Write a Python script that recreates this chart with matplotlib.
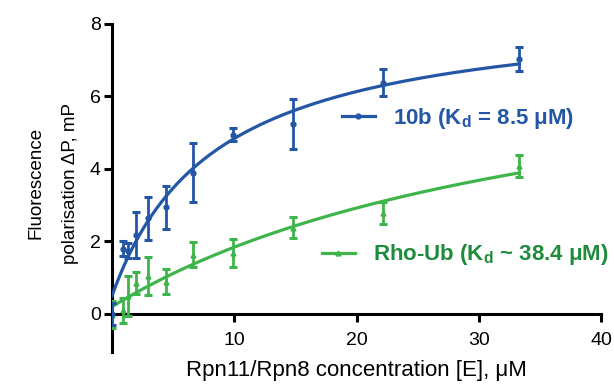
import numpy as np
import matplotlib
matplotlib.use("Agg")
import matplotlib.pyplot as plt
from matplotlib.lines import Line2D

plt.rcParams['font.family'] = ['Liberation Sans', 'DejaVu Sans']
plt.rcParams['mathtext.fontset'] = 'custom'
plt.rcParams['mathtext.rm'] = 'Liberation Sans'
plt.rcParams['mathtext.bf'] = 'Liberation Sans:bold'

# concentrations (uM)
conc = [0, 0.87, 1.3, 1.95, 2.95, 4.4, 6.6, 9.9, 14.8, 22.2, 33.3]

# 10b
b_mean = [0.0, 1.8, 1.75, 2.18, 2.64, 2.94, 3.9, 4.95, 5.24, 6.38, 7.04]
b_err = [0.3, 0.2, 0.2, 0.63, 0.6, 0.6, 0.82, 0.19, 0.69, 0.37, 0.33]
# Rho-Ub
g_mean = [-0.02, 0.1, 0.5, 0.86, 1.05, 0.89, 1.64, 1.68, 2.38, 2.78, 4.09]
g_err = [0.38, 0.35, 0.55, 0.3, 0.53, 0.34, 0.34, 0.38, 0.29, 0.3, 0.3]

# fitted one-site binding parameters
b_kd, b_bmax, b_y0 = 8.5, 8.03, 0.5
g_kd, g_bmax, g_y0 = 38.4, 7.95, 0.2

blue = '#2456a6'
green = '#3db54a'
green_text = '#1f8c3b'

fig = plt.figure(figsize=(6.14, 3.87), dpi=100)
ax = fig.add_axes([112/614, 1-352/387, (601-112)/614, (352-24)/387])

xs = np.linspace(0, max(conc), 300)
ax.plot(xs, g_y0 + g_bmax*xs/(g_kd+xs), color=green, lw=2.3, zorder=2)
ax.errorbar(conc, g_mean, yerr=g_err, fmt='^', color=green, ms=3.5,
            elinewidth=2.0, capsize=3, capthick=2.2, zorder=3)
ax.plot(xs, b_y0 + b_bmax*xs/(b_kd+xs), color=blue, lw=2.3, zorder=4)
ax.errorbar(conc, b_mean, yerr=b_err, fmt='o', color=blue, ms=3.5,
            elinewidth=2.0, capsize=3, capthick=2.2, zorder=5)

ax.set_xlim(0, 40)
ax.set_ylim(-1.05, 8)
ax.set_xticks([10, 20, 30, 40])
ax.set_yticks([0, 2, 4, 6, 8])
for s in ['top', 'right']:
    ax.spines[s].set_visible(False)
ax.spines['bottom'].set_position(('data', 0))
for s in ['left', 'bottom']:
    ax.spines[s].set_linewidth(2.2)
ax.tick_params(axis='x', length=6, width=2.2, labelsize=14, pad=7)
ax.tick_params(axis='y', length=6, width=2.2, labelsize=14, pad=2)
ax.set_xlabel('Rpn11/Rpn8 concentration [E], μM', fontsize=16, labelpad=8)
ax.set_ylabel('Fluorescence\npolarisation ΔP, mP', fontsize=13.5,
              linespacing=2.3)
ax.yaxis.set_label_coords(-0.068, 0.514)

h1 = Line2D([], [], color=blue, lw=2.3, marker='o', ms=3.5)
h2 = Line2D([], [], color=green, lw=2.3, marker='^', ms=3.5)
leg1 = ax.legend([h1], [r'10b (K$_\mathbf{d}$ = 8.5 μM)'], loc='center left',
                 bbox_to_anchor=(0.470, 0.713), frameon=False, handlelength=1.5,
                 handletextpad=0.8, borderpad=0, borderaxespad=0,
                 prop={'weight': 'bold', 'size': 16})
leg1.get_texts()[0].set_color(blue)
ax.add_artist(leg1)
leg2 = ax.legend([h2], [r'Rho-Ub (K$_\mathbf{d}$ ~ 38.4 μM)'], loc='center left',
                 bbox_to_anchor=(0.429, 0.296), frameon=False, handlelength=1.5,
                 handletextpad=0.8, borderpad=0, borderaxespad=0,
                 prop={'weight': 'bold', 'size': 16})
leg2.get_texts()[0].set_color(green_text)

fig.savefig('out.png', dpi=100)
